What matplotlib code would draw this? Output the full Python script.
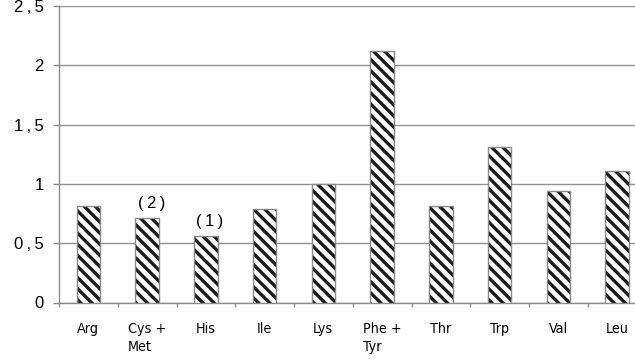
import matplotlib
matplotlib.use("Agg")
import matplotlib.pyplot as plt
import numpy as np

categories = ["Arg", "Cys +\nMet", "His", "Ile", "Lys", "Phe +\nTyr", "Thr", "Trp", "Val", "Leu"]
values = [0.81, 0.71, 0.56, 0.79, 1.00, 2.12, 0.81, 1.31, 0.94, 1.11]
yticks = [0, 0.5, 1, 1.5, 2, 2.5]
ytick_labels = ["0", "0\u2009,\u20095", "1", "1\u2009,\u20095", "2", "2\u2009,\u20095"]
annotations = {1: "(\u20092\u2009)", 2: "(\u20091\u2009)"}

plt.rcParams['hatch.linewidth'] = 2.4

fig = plt.figure(figsize=(6.35, 3.59), dpi=100)
ax = fig.add_axes([59/635, 56.5/359, 587.5/635, 296.5/359])

x = np.arange(len(categories))
# hatch layer (black stripes)
ax.bar(x, values, width=0.4, facecolor='white', edgecolor='#1a1a1a',
       linewidth=0, hatch='\\\\\\', zorder=3)
# outline layer
ax.bar(x, values, width=0.4, facecolor='none', edgecolor='#8a8a8a',
       linewidth=1.0, zorder=4)

ax.set_xlim(-0.5, len(categories) - 0.5)
ax.set_ylim(0, 2.5)
ax.set_yticks(yticks)
ax.set_yticklabels(ytick_labels, family=['Liberation Sans', 'DejaVu Sans'], fontsize=12)
ax.yaxis.grid(True, color='#909090', linewidth=1.0, zorder=0)
ax.tick_params(axis='y', length=4, width=1, color='#8c8c8c', pad=7)

ax.set_xticks(x)
ax.set_xticklabels(categories, family='DejaVu Sans', fontstretch='condensed',
                   fontsize=10.3, va='top', ha='center', multialignment='left',
                   linespacing=1.4)
ax.tick_params(axis='x', length=0, pad=14)
ax.set_xticks(np.arange(len(categories) + 1) - 0.5, minor=True)
ax.tick_params(axis='x', which='minor', length=3, width=1, color='#8c8c8c', direction='out')

for s in ['top', 'right']:
    ax.spines[s].set_visible(False)
for s in ['left', 'bottom']:
    ax.spines[s].set_color('#8c8c8c')
    ax.spines[s].set_linewidth(1.0)

for i, txt in annotations.items():
    ax.annotate(txt, (x[i], values[i]), xytext=(3, 5), textcoords='offset points',
                ha='center', va='bottom', fontsize=12,
                family=['Liberation Sans', 'DejaVu Sans'])

fig.savefig("out.png", dpi=100)
